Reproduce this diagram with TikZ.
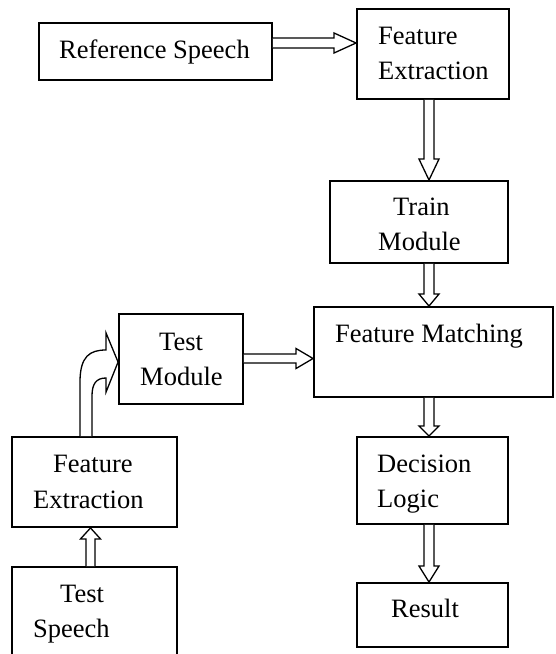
\documentclass[tikz,border=0pt]{standalone}
\usepackage{fontspec}
\setmainfont{Liberation Serif}
\usetikzlibrary{calc}

% block arrows: #1 start, #2 target, #3 half shaft width, #4 half head width, #5 head length
\newcommand\blkright[5]{%
  \draw[arrowline] let \p1=(#1), \p2=(#2) in
    (\x1,\y1+#3) -- (\x2-#5,\y1+#3) -- (\x2-#5,\y1+#4) -- (\x2,\y1)
    -- (\x2-#5,\y1-#4) -- (\x2-#5,\y1-#3) -- (\x1,\y1-#3);}
\newcommand\blkdown[5]{%
  \draw[arrowline] let \p1=(#1), \p2=(#2) in
    (\x1-#3,\y1) -- (\x1-#3,\y2+#5) -- (\x1-#4,\y2+#5) -- (\x1,\y2)
    -- (\x1+#4,\y2+#5) -- (\x1+#3,\y2+#5) -- (\x1+#3,\y1);}
\newcommand\blkup[5]{%
  \draw[arrowline] let \p1=(#1), \p2=(#2) in
    (\x1-#3,\y1) -- (\x1-#3,\y2-#5) -- (\x1-#4,\y2-#5) -- (\x1,\y2)
    -- (\x1+#4,\y2-#5) -- (\x1+#3,\y2-#5) -- (\x1+#3,\y1);}

\begin{document}
\begin{tikzpicture}[x=1pt,y=-1pt,
  box/.style={draw, line width=1.9pt, rectangle, inner sep=0pt},
  lbl/.style={inner sep=0pt, anchor=base west, font=\fontsize{26.5}{35}\selectfont},
  arrowline/.style={line width=1.3pt, line join=miter, fill=white}]
\useasboundingbox (0,0) rectangle (555,654);

% boxes
\node[box, minimum width=233pt, minimum height=57pt] (ref)   at (155.5,51.5) {};
\node[box, minimum width=152pt, minimum height=90pt] (fe1)   at (433,54) {};
\node[box, minimum width=178pt, minimum height=82pt] (train) at (419,222) {};
\node[box, minimum width=239pt, minimum height=90pt] (fm)    at (433.5,352) {};
\node[box, minimum width=151pt, minimum height=87pt] (dec)   at (432.5,480.5) {};
\node[box, minimum width=151pt, minimum height=64pt] (res)   at (432.5,615) {};
\node[box, minimum width=124pt, minimum height=90pt] (tm)    at (181,359) {};
\node[box, minimum width=165pt, minimum height=90pt] (fe2)   at (94.5,482) {};
\node[box, minimum width=165pt, minimum height=97pt] (ts)    at (94.5,615.5) {};

% labels
\node[lbl] (tref)  at (59,58)   {Reference Speech};
\node[lbl] (tfe1a) at (378,44)  {Feature};
\node[lbl] (tfe1b) at (378,79)  {Extraction};
\node[lbl] (ttra)  at (393,215) {Train};
\node[lbl] (ttrb)  at (378,250) {Module};
\node[lbl] (tfm)   at (335,342) {Feature Matching};
\node[lbl] (ttma)  at (159,350) {Test};
\node[lbl] (ttmb)  at (140,385) {Module};
\node[lbl] (tfe2a) at (53,472)  {Feature};
\node[lbl] (tfe2b) at (33,508)  {Extraction};
\node[lbl] (tdeca) at (377,472) {Decision};
\node[lbl] (tdecb) at (377,507) {Logic};
\node[lbl] (tres)  at (391,617) {Result};
\node[lbl] (ttsa)  at (60,602)  {Test};
\node[lbl] (ttsb)  at (33,637)  {Speech};

% straight block arrows
\blkright{$(ref.east)+(0,-8.5)$}{fe1.west}{5pt}{10pt}{22pt}
\blkdown{$(fe1.south)+(-4,0)$}{train.north}{5pt}{10pt}{21pt}
\blkdown{$(train.south)+(10,0)$}{fm.north}{5pt}{10pt}{12pt}
\blkdown{$(fm.south)+(-4.5,0)$}{dec.north}{5pt}{10pt}{10pt}
\blkdown{$(dec.south)+(-3.5,0)$}{res.north}{5pt}{10pt}{16pt}
\blkright{$(tm.east)+(0,-0.5)$}{fm.west}{4.5pt}{10pt}{17pt}
\blkup{$(ts.north)+(-4,0)$}{fe2.south}{4.5pt}{10pt}{11pt}

% curved block arrow from the lower feature extraction to the test module
\draw[arrowline] let \p1=(fe2.north), \p2=(tm.west) in
  (\x1-14.5pt,\y1) -- (\x1-14.5pt,\y2-23pt)
  .. controls (\x1-14.5pt,\y2+3pt) and (\x1-4.5pt,\y2+9pt) .. (\x2-12pt,\y2+9pt)
  -- (\x2-12pt,\y2+26pt) -- (\x2,\y2-3pt) -- (\x2-12pt,\y2-33pt) -- (\x2-12pt,\y2-19pt)
  .. controls (\x2-22pt,\y2-19pt) and (\x1-2.5pt,\y2-25pt) .. (\x1-2.5pt,\y2-37pt)
  -- (\x1-2.5pt,\y1);
\end{tikzpicture}
\end{document}
